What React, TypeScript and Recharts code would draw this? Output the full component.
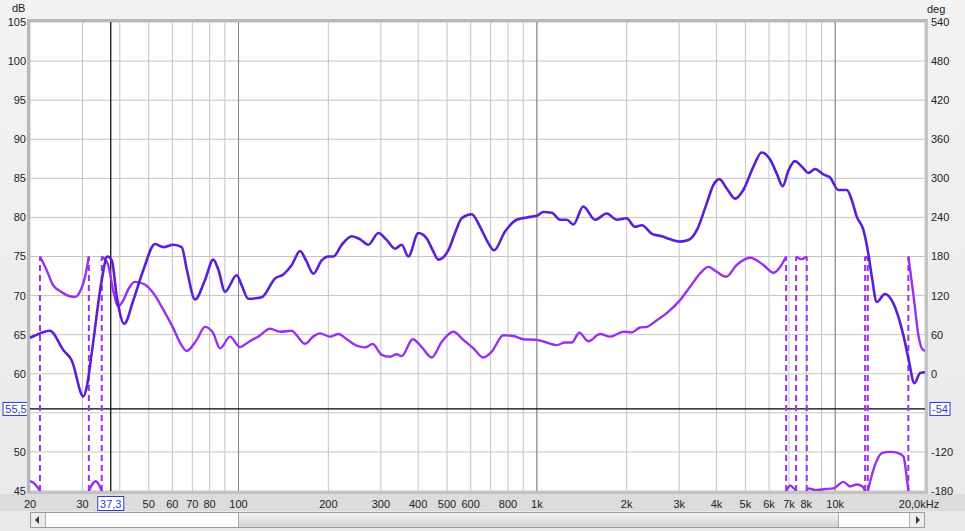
import {
  ComposedChart,
  Line,
  XAxis,
  YAxis,
  CartesianGrid,
  ReferenceLine,
} from 'recharts'

// SPL trace (dB, left axis)
const splHz = [
  20, 20.8, 23.3, 25.9, 27.6, 30.2, 31.0, 32.2, 34.8, 36.3, 37.6, 39.1, 41.4, 44.4, 48.0, 52.5, 56.0,
  60.4, 64.5, 67.1, 71.5, 77.2, 82.3, 85.6, 90.1, 98.6, 102.5, 107.8, 119.6, 132.6, 141.3, 150.8,
  160.8, 168.4, 178.1, 190, 200, 207.9, 221.8, 239.6, 255.5, 272.4, 294.2, 314, 334.6, 352.4, 370.8,
  400.5, 427.4, 447.7, 467.4, 505, 531.8, 560, 605, 645, 687.8, 718.7, 782.2, 856, 925, 999, 1051,
  1122, 1196, 1260, 1326, 1431, 1567, 1716, 1853, 2000, 2130, 2250, 2430, 2620, 2800, 3020, 3220,
  3440, 3710, 3900, 4090, 4330, 4620, 4920, 5320, 5670, 6050, 6370, 6670, 6970, 7330, 7730, 8130,
  8560, 9130, 9610, 10250, 10940, 11370, 11810, 12430, 12910, 13270, 13780, 14690, 15670, 16930,
  17590, 18430, 19260, 20000,
]
const splDb = [
  64.6, 64.9, 65.5, 63.0, 61.7, 57.1, 58.3, 62.6, 72.0, 75.0, 74.5, 69.8, 66.4, 69.4, 73.3, 76.6, 76.2,
  76.5, 76.2, 73.3, 69.5, 72.0, 74.6, 73.3, 70.5, 72.6, 71.3, 69.6, 69.8, 72.2, 72.7, 73.9,
  75.7, 74.5, 72.8, 74.5, 75.0, 75.0, 76.5, 77.6, 77.2, 76.5, 78.0, 77.1, 76.0, 76.5, 75.0,
  78.0, 77.3, 75.8, 74.6, 75.8, 78.0, 79.9, 80.4, 78.8, 76.7, 75.8, 78.2, 79.7, 80.0, 80.2, 80.7,
  80.6, 79.7, 79.7, 79.1, 81.4, 79.7, 80.5, 79.7, 79.9, 78.8, 79.0, 77.9, 77.6, 77.2, 76.9, 77.1,
  78.4, 81.8, 84.1, 84.9, 83.7, 82.4, 83.5, 86.5, 88.3, 87.4, 85.6, 84.0, 86.0, 87.2, 86.5, 85.7,
  86.2, 85.5, 85.1, 83.5, 83.5, 82.2, 80.1, 78.4, 75.4, 72.4, 69.2, 70.2, 69.0, 64.9,
  62.0, 58.8, 60.1, 60.2,
]

// phase trace (deg, right axis); null marks a ±180 wrap
const phaseHz = [
  20, 20.5, 21.1, 21.6, 21.6, 21.6, 22.75, 23.9, 25.2, 27.2, 28.3, 29.4, 30.6, 31.5, 31.5, 31.5,
  32.3, 33.2, 34.0, 34.8, 34.8, 34.8, 36.5, 38.0, 39.45, 41.0, 43.0, 44.9, 48.5, 52.5, 56.0, 60.4,
  64.0, 67.0, 72.4, 77.2, 82.3, 86.7, 93.7, 101, 109, 116.5, 127.5, 137.8, 150.8, 156.7, 167, 178,
  187.6, 202.6, 216, 230.5, 249, 265.5, 281.7, 302, 322, 339, 352, 383.7, 411, 444, 480, 525, 567,
  613, 662, 706, 772, 834, 901, 999, 1079, 1166, 1243, 1309, 1388, 1488, 1630, 1760, 1950, 2080,
  2218, 2336, 2523, 2725, 3020, 3263, 3525, 3758, 4009, 4307, 4677, 5185, 5745, 6207, 6537, 6850,
  6850, 6850, 7060, 7396, 7396, 7396, 7700, 8030, 8030, 8030, 8130, 8560, 9250, 9860, 10650, 11220,
  11810, 12340, 12600, 12600, 12600, 12730, 12860, 12860, 12860, 13600, 14330, 15280, 16290, 16930,
  17380, 17590, 17590, 17590, 18290, 19010, 19510, 20000,
]
const phaseDeg = [
  -165, -167, -173, -180, null, 180, 159, 136, 127, 119, 118, 126, 149, 180, null, -180,
  -170, -165, -170, -180, null, 180, 168, 128, 103, 112, 132, 141, 137, 120, 98, 70,
  46, 35, 52, 72, 62, 39, 57, 41, 50, 57, 69, 64.5, 66, 59, 46, 57,
  62, 57, 61, 53, 43, 40.5, 45.6, 29, 26, 30, 27, 53, 41, 25, 49, 64.5, 52,
  39, 25, 34, 59, 58, 53, 52, 48, 44, 48, 48, 63, 50, 61, 57, 64.5, 63.5,
  71, 72, 82, 93, 113, 133.5, 154, 164, 156.5, 149, 167, 178, 167, 155, 164, 180,
  null, -180, -172, -180, null, 180, 176, 180, null, -180, -176, -178.5, -177, -176, -166, -173,
  -170, -173, -180, null, 180, 178, 180, null, -180, -140, -122, -120, -122, -127,
  -160, -180, null, 180, 121, 59, 39, 35,
]

const xTicks = [
  20, 30, 40, 50, 60, 70, 80, 90, 100, 200, 300, 400, 500, 600, 700, 800, 900, 1000, 2000, 3000,
  4000, 5000, 6000, 7000, 8000, 9000, 10000, 20000,
]
const xLabels: Record<number, string> = {
  20: '20', 30: '30', 50: '50', 60: '60', 70: '70', 80: '80', 100: '100', 200: '200', 300: '300',
  400: '400', 500: '500', 600: '600', 800: '800', 1000: '1k', 2000: '2k', 3000: '3k', 4000: '4k',
  5000: '5k', 6000: '6k', 7000: '7k', 8000: '8k', 10000: '10k', 20000: '20,0kHz',
}
const dbTicks = [45, 50, 55, 60, 65, 70, 75, 80, 85, 90, 95, 100, 105]
const degTicks = [-180, -120, -60, 0, 60, 120, 180, 240, 300, 360, 420, 480, 540]
const decadeHz = [100, 1000, 10000]

const cursorHz = 37.3
const cursorDb = 55.5
const cursorDeg = -54
// tick labels hidden under the cursor readout boxes
const hiddenDb = [55]
const hiddenDeg = [-60]

const splData = splHz.map((f, i) => ({ f, v: splDb[i] }))
const phaseData = phaseHz.map((f, i) => ({ f, v: phaseDeg[i] }))
const wrapHz = phaseHz.filter((_, i) => phaseDeg[i] === null)

const SPL_COLOR = '#5a1fd6'
const PHASE_COLOR = '#9a2ff0'
const TEXT = '#222'
const FONT = "'Liberation Sans', Arial, sans-serif"
const BOX = '#2a3bd0'

const comma = (n: number) => String(n).replace('.', ',')

function XTick({ x, y, payload }: any) {
  const label = xLabels[payload.value]
  if (!label) return null
  const shift = payload.value === 20000 ? -6 : 0
  return (
    <text x={x + shift} y={y + 8.5} textAnchor="middle" fontSize={11} fill={TEXT} fontFamily={FONT}>
      {label}
    </text>
  )
}

function LeftTick({ x, y, payload }: any) {
  if (hiddenDb.includes(payload.value)) return null
  return (
    <text x={x} y={y} dy="0.36em" textAnchor="end" fontSize={11} fill={TEXT} fontFamily={FONT}>
      {payload.value}
    </text>
  )
}

function RightTick({ x, y, payload }: any) {
  if (hiddenDeg.includes(payload.value)) return null
  return (
    <text x={x} y={y} dy="0.36em" textAnchor="start" fontSize={11} fill={TEXT} fontFamily={FONT}>
      {payload.value}
    </text>
  )
}

const cursorXLabel = (props: any) => {
  const { x, y, height } = props.viewBox
  return (
    <g>
      <rect x={x - 13} y={y + height + 5.5} width={26} height={14} fill="#fff" stroke={BOX} />
      <text x={x} y={y + height + 16.5} textAnchor="middle" fontSize={11} fill={BOX} fontFamily={FONT}>
        {comma(cursorHz)}
      </text>
    </g>
  )
}

const cursorYLabel = (props: any) => {
  const { x, y, width } = props.viewBox
  return (
    <g>
      <rect x={x - 27} y={y - 6.5} width={26} height={13} fill="#fff" stroke={BOX} />
      <text x={x - 14} y={y + 4} textAnchor="middle" fontSize={11} fill={BOX} fontFamily={FONT}>
        {comma(cursorDb)}
      </text>
      <rect x={x + width + 5} y={y - 6.5} width={20} height={13} fill="#fff" stroke={BOX} />
      <text x={x + width + 15} y={y + 4} textAnchor="middle" fontSize={11} fill={BOX} fontFamily={FONT}>
        {cursorDeg}
      </text>
    </g>
  )
}

export default function App() {
  return (
    <div
      style={{
        position: 'fixed',
        left: 0,
        top: 0,
        width: 965,
        height: 531,
        background: 'linear-gradient(#f3f3f3, #e9e9e9)',
        fontFamily: FONT,
        overflow: 'hidden',
      }}
    >
      <div style={{ position: 'absolute', left: 0, top: 494, width: 965, height: 17, background: '#dcdcdc' }} />
      <span style={{ position: 'absolute', left: 12, top: 3, fontSize: 11, lineHeight: '11px', color: TEXT }}>dB</span>
      <span style={{ position: 'absolute', left: 927, top: 4, fontSize: 11, lineHeight: '11px', color: TEXT }}>deg</span>

      <div style={{ position: 'absolute', left: 0, top: 0 }}>
        <ComposedChart width={965} height={531} margin={{ top: 22, right: 0, bottom: 0, left: 0 }}>
          <CartesianGrid yAxisId="db" stroke="#c4c4c4" fill="#ffffff" fillOpacity={1} />
          <XAxis
            dataKey="f"
            type="number"
            scale="log"
            domain={[20, 20000]}
            ticks={xTicks}
            interval={0}
            allowDataOverflow
            height={40}
            tickLine={false}
            axisLine={false}
            tickSize={0}
            tickMargin={8}
            tick={<XTick />}
          />
          <YAxis
            yAxisId="db"
            type="number"
            domain={[45, 105]}
            ticks={dbTicks}
            interval={0}
            allowDataOverflow
            width={30}
            tickLine={false}
            axisLine={false}
            tickSize={0}
            tickMargin={4}
            tick={<LeftTick />}
          />
          <YAxis
            yAxisId="deg"
            orientation="right"
            type="number"
            domain={[-180, 540]}
            ticks={degTicks}
            interval={0}
            allowDataOverflow
            width={40}
            tickLine={false}
            axisLine={false}
            tickSize={0}
            tickMargin={6}
            tick={<RightTick />}
          />
          {decadeHz.map((hz) => (
            <ReferenceLine key={hz} x={hz} yAxisId="db" stroke="#858585" strokeWidth={1} />
          ))}
          <ReferenceLine x={cursorHz} yAxisId="db" stroke="#000" strokeWidth={1.2} label={cursorXLabel} />
          <ReferenceLine y={cursorDb} yAxisId="db" stroke="#000" strokeWidth={1.2} label={cursorYLabel} />
          {wrapHz.map((hz, i) => (
            <ReferenceLine
              key={'w' + i}
              yAxisId="deg"
              segment={[{ x: hz, y: -180 }, { x: hz, y: 180 }]}
              stroke={PHASE_COLOR}
              strokeWidth={2}
              strokeDasharray="6 4"
            />
          ))}
          <Line
            data={phaseData}
            dataKey="v"
            yAxisId="deg"
            type="monotone"
            stroke={PHASE_COLOR}
            strokeWidth={2.4}
            dot={false}
            activeDot={false}
            connectNulls={false}
            isAnimationActive={false}
          />
          <Line
            data={splData}
            dataKey="v"
            yAxisId="db"
            type="monotone"
            stroke={SPL_COLOR}
            strokeWidth={2.6}
            dot={false}
            activeDot={false}
            isAnimationActive={false}
          />
        </ComposedChart>
      </div>

      {/* plot frame */}
      <div
        style={{
          position: 'absolute',
          left: 27,
          top: 19,
          width: 901,
          height: 475,
          boxSizing: 'border-box',
          border: '3px solid #c3c3c3',
          borderTopColor: '#b8b8b8',
          borderLeftColor: '#b8b8b8',
          pointerEvents: 'none',
        }}
      />

      {/* scrollbar */}
      <div
        style={{
          position: 'absolute',
          left: 30,
          top: 512,
          width: 895,
          height: 16,
          boxSizing: 'border-box',
          border: '1px solid #9c9c9c',
          background: '#fff',
        }}
      >
        <div style={{ position: 'absolute', left: 0, top: 0, width: 14, height: 14, background: '#ececec', borderRight: '1px solid #b0b0b0' }}>
          <div style={{ position: 'absolute', left: 4, top: 3, width: 0, height: 0, borderTop: '4px solid transparent', borderBottom: '4px solid transparent', borderRight: '4px solid #333' }} />
        </div>
        <div style={{ position: 'absolute', left: 207, top: 0, width: 599, height: 14, background: 'linear-gradient(#f2f2f2, #d2d2d2)', borderLeft: '1px solid #a8a8a8', borderRight: '1px solid #a8a8a8' }} />
        <div style={{ position: 'absolute', right: 0, top: 0, width: 14, height: 14, background: '#ececec', borderLeft: '1px solid #b0b0b0' }}>
          <div style={{ position: 'absolute', left: 6, top: 3, width: 0, height: 0, borderTop: '4px solid transparent', borderBottom: '4px solid transparent', borderLeft: '4px solid #333' }} />
        </div>
      </div>
    </div>
  )
}
